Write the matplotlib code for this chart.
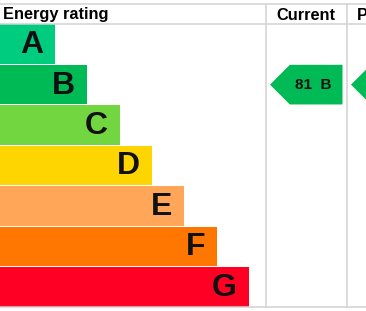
import matplotlib
matplotlib.use("Agg")
import matplotlib.pyplot as plt
from matplotlib.patches import Polygon

# Data
bands = ["A", "B", "C", "D", "E", "F", "G"]
bar_lengths = [55, 87, 120, 152, 184, 217, 249]
band_colors = ["#00cc80", "#00bb55", "#72d640", "#ffd500", "#ffa658", "#ff7600", "#ff0025"]
current_score = 81
current_band = "B"
potential_band = "B"
headers = ["Energy rating", "Current", "Potential"]

W, H = 366, 311
fig = plt.figure(figsize=(W / 100, H / 100), dpi=100)
ax = fig.add_axes([0, 0, 1, 1])
ax.set_xlim(0, W)
ax.set_ylim(H, 0)
ax.axis("off")

font = "Liberation Sans"
grid_col = "#d2d2d2"
top_y, head_y, bot_y = 3.5, 23.5, 307
row_h = (bot_y - 24) / len(bands)
col1, col2 = 265.5, 346.5

# grid lines
ax.plot([0, W], [top_y, top_y], color=grid_col, lw=1.1)
ax.plot([0, W], [head_y, head_y], color=grid_col, lw=1.1)
ax.plot([0, W], [bot_y, bot_y], color=grid_col, lw=1.1)
for x in (col1, col2):
    ax.plot([x, x], [top_y, bot_y], color=grid_col, lw=1.1)

# headers
hfs = 11.8
ax.text(3, 15, headers[0], fontsize=hfs, fontweight="bold", family=font, va="center", ha="left")
ax.text((col1 + col2) / 2 - 0.5, 15, headers[1], fontsize=hfs, fontweight="bold", family=font, va="center", ha="center")
ax.text(col2 + 10, 15, headers[2], fontsize=hfs, fontweight="bold", family=font, va="center", ha="left",
        clip_on=True)

# bars
centers = [24 + row_h * (i + 0.5) for i in range(len(bands))]
ax.barh(centers, bar_lengths, height=row_h - 0.8, left=0, color=band_colors, edgecolor="none")
for c, L, b in zip(centers, bar_lengths, bands):
    ax.text(L - 12, c + 1, b, fontsize=23, fontweight="bold", family=font, ha="right", va="center", color="#111111")

# arrows
def arrow(x_tip, x_right, band, label):
    i = bands.index(band)
    c = centers[i]
    half = (row_h - 0.8) / 2
    pts = [(x_tip, c), (x_tip + half, c - half), (x_right, c - half), (x_right, c + half), (x_tip + half, c + half)]
    ax.add_patch(Polygon(pts, closed=True, facecolor=band_colors[i], edgecolor="none"))
    if label:
        ax.text(313, c + 0.5, label, fontsize=11, fontweight="bold",
                family=font, ha="center", va="center", color="#111111")

arrow(270, 342.5, current_band, f"{current_score}  {current_band}")
arrow(351, 430, potential_band, "")

fig.savefig("out.png", dpi=100)
